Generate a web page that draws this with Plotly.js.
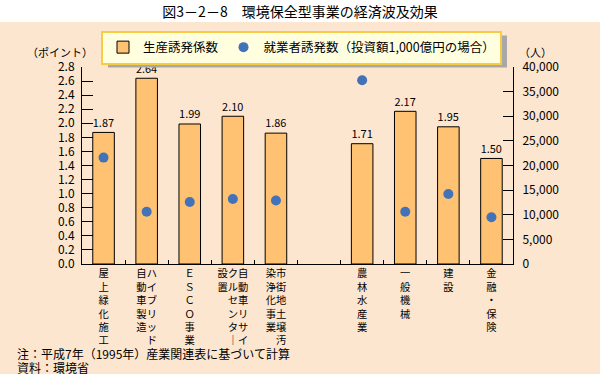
<!DOCTYPE html>
<html>
<head>
<meta charset="utf-8">
<script src="https://cdn.plot.ly/plotly-3.0.1.min.js"></script>
<style>html,body{margin:0;padding:0;background:#fff;}#chart{width:600px;height:374px;}</style>
</head>
<body>
<div id="chart"></div>
<script>
// ---- data ----
const categories = ['屋上緑化施工', 'ハイブリッド自動車製造', 'ＥＳＣＯ事業', '自動車リサイクルセンター設置', '市街地土壌汚染浄化事業', ' ', '農林水産業', '一般機械', '建設', '金融・保険'];
const inducementCoef = [1.87, 2.64, 1.99, 2.10, 1.86, null, 1.71, 2.17, 1.95, 1.50];
const employmentInduced = [21600, 10600, 12600, 13200, 12900, null, 37300, 10600, 14200, 9500];
const seriesNames = ['生産誘発係数', '就業者誘発数（投資額1,000億円の場合）'];
const leftTicks = [0, 0.2, 0.4, 0.6, 0.8, 1.0, 1.2, 1.4, 1.6, 1.8, 2.0, 2.2, 2.4, 2.6, 2.8];
const rightTicks = [0, 5000, 10000, 15000, 20000, 25000, 30000, 35000, 40000];

const FONT = '"Noto Sans CJK JP", "Noto Sans", sans-serif';

function vertical(name) {
  const chars = [...name].map(c => c === 'ー' ? '｜' : c);
  const cols = [];
  for (let i = 0; i < chars.length; i += 6) cols.push(chars.slice(i, i + 6));
  const rows = Math.max(...cols.map(c => c.length));
  const lines = [];
  for (let r = 0; r < rows; r++) {
    let s = '';
    for (let k = cols.length - 1; k >= 0; k--) s += cols[k][r] || '　';
    lines.push(s);
  }
  return lines.join('<br>');
}

const bars = {
  type: 'bar',
  name: seriesNames[0],
  x: categories,
  y: inducementCoef,
  width: 0.5,
  marker: {color: '#FFC273', line: {color: '#000', width: 1}},
  text: inducementCoef.map(v => v == null ? '' : v.toFixed(2)),
  textposition: 'outside',
  textfont: {family: FONT, size: 12, color: '#000'},
  cliponaxis: false,
  hoverinfo: 'x+y'
};
const dots = {
  type: 'scatter',
  mode: 'markers',
  name: seriesNames[1],
  x: categories,
  y: employmentInduced,
  yaxis: 'y2',
  marker: {color: '#4472B8', size: 10},
  cliponaxis: false
};

const W = 431, H = 197, L = 82, T = 67;
const px = X => (X - L) / W;
const py = Y => (T + H - Y) / H;

const layout = {
  width: 600, height: 374,
  margin: {l: L, r: 600 - L - W, t: T, b: 374 - T - H},
  paper_bgcolor: '#FDE6CF',
  plot_bgcolor: 'rgba(0,0,0,0)',
  font: {family: FONT, size: 12, color: '#000'},
  title: {text: '図3－2－8　環境保全型事業の経済波及効果', x: 0.5, xanchor: 'center', yref: 'container', y: 1 - 12 / 374, yanchor: 'middle', font: {family: FONT, size: 14, color: '#000'}},
  showlegend: true,
  legend: {orientation: 'h', x: px(101), xanchor: 'left', y: py(30.5), yanchor: 'top', bgcolor: '#FFFFE0', bordercolor: '#F6CC45', borderwidth: 2, font: {family: FONT, size: 12.5}},
  xaxis: {
    type: 'category', categoryorder: 'array', categoryarray: categories,
    range: [-0.5, categories.length - 0.5],
    tickvals: categories, ticktext: categories.map(vertical),
    tickson: 'boundaries', ticks: 'inside', ticklen: 4, tickcolor: '#000',
    showline: true, linecolor: '#000', linewidth: 1, showgrid: false, zeroline: false,
    tickfont: {family: FONT, size: 10.3}, tickangle: 0, fixedrange: true
  },
  yaxis: {
    range: [0, 2.8], tickvals: leftTicks, ticktext: leftTicks.map(v => v.toFixed(1)),
    ticks: 'inside', ticklen: 11, tickcolor: '#000', showline: true, linecolor: '#000',
    showgrid: false, zeroline: false, tickfont: {family: FONT, size: 12}, ticklabelstandoff: 4
  },
  yaxis2: {
    overlaying: 'y', side: 'right', range: [0, 40000], tickvals: rightTicks,
    ticktext: rightTicks.map(v => v.toLocaleString('en-US')),
    ticks: 'inside', ticklen: 10, tickcolor: '#000', showline: true, linecolor: '#000',
    showgrid: false, zeroline: false, tickfont: {family: FONT, size: 12}, ticklabelstandoff: 6
  },
  shapes: [
    {type: 'rect', xref: 'paper', yref: 'paper', x0: px(-5), x1: px(605), y0: py(22), y1: py(-5), fillcolor: '#FFFFFF', line: {width: 0}, layer: 'below'},
    {type: 'rect', xref: 'paper', yref: 'paper', x0: px(107), x1: px(497), y0: py(65), y1: py(40), fillcolor: '#A8A8A8', line: {width: 0}, layer: 'above'}
  ],
  annotations: [
    {text: '（ポイント）', xref: 'paper', yref: 'paper', x: px(60), y: py(52), xanchor: 'center', yanchor: 'middle', showarrow: false, font: {family: FONT, size: 11}},
    {text: '（人）', xref: 'paper', yref: 'paper', x: px(535), y: py(52), xanchor: 'center', yanchor: 'middle', showarrow: false, font: {family: FONT, size: 11}},
    {text: '注：平成7年（1995年）産業関連表に基づいて計算', xref: 'paper', yref: 'paper', x: px(15), y: py(353), xanchor: 'left', yanchor: 'middle', showarrow: false, font: {family: FONT, size: 12}},
    {text: '資料：環境省', xref: 'paper', yref: 'paper', x: px(15), y: py(367), xanchor: 'left', yanchor: 'middle', showarrow: false, font: {family: FONT, size: 12}}
  ]
};

Plotly.newPlot('chart', [bars, dots], layout, {displayModeBar: false, staticPlot: true}).then(gd => {
  // place the legend shadow from the legend's rendered box
  const bg = gd.querySelector('.legend .bg');
  if (!bg) return;
  const r = bg.getBoundingClientRect();
  const g = gd.getBoundingClientRect();
  const x0 = r.left - g.left + 6, x1 = r.right - g.left + 6;
  const y0 = r.bottom - g.top + 4, y1 = r.top - g.top + 4;
  return Plotly.relayout(gd, {
    'shapes[1].x0': px(x0), 'shapes[1].x1': px(x1),
    'shapes[1].y0': py(y0), 'shapes[1].y1': py(y1)
  });
});
</script>
</body>
</html>
